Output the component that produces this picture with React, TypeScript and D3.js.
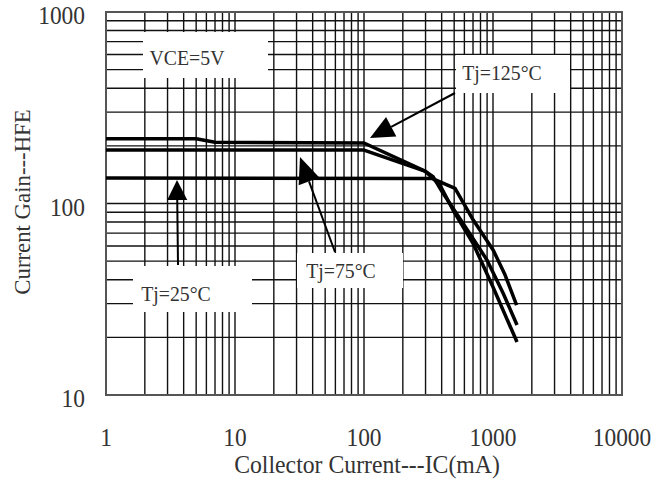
import React from "react";
import * as d3 from "d3";

const xTicks = [1, 10, 100, 1000, 10000];
const yTicks = [10, 100, 1000];
const xTickLabels = ["1", "10", "100", "1000", "10000"];
const yTickLabels = ["10", "100", "1000"];

const ic125 = [1, 5, 7, 100, 300, 388, 490, 700, 1000, 1535];
const hfe125 = [218, 218, 209, 207, 147, 125, 92.5, 62, 36.6, 18.9];

const ic75 = [1, 100, 300, 343, 410, 585, 898, 1196, 1535];
const hfe75 = [190, 190, 147, 138, 113, 79, 50.7, 34.1, 23.2];

const ic25 = [1, 340, 508, 703, 1005, 1239, 1524];
const hfe25 = [136, 135, 120, 82, 57, 42.4, 29.5];

const W = 653;
const H = 481;
const L = 106, R = 622, T = 12, B = 395;

export default function App() {
  const x = d3.scaleLog().domain([1, 10000]).range([L, R]);
  const y = d3.scaleLog().domain([10, 1000]).range([B, T]);

  const xGrid: number[] = [];
  for (let e = 0; e < 4; e++) for (let k = 1; k <= 9; k++) xGrid.push(k * Math.pow(10, e));
  xGrid.push(10000);
  const yGrid: number[] = [];
  for (let e = 1; e < 3; e++) for (let k = 1; k <= 9; k++) yGrid.push(k * Math.pow(10, e));
  yGrid.push(1000);

  const line = d3
    .line<[number, number]>()
    .x((d) => x(d[0]))
    .y((d) => y(d[1]))
    .curve(d3.curveLinear);

  const series = [
    { ic: ic125, hfe: hfe125 },
    { ic: ic75, hfe: hfe75 },
    { ic: ic25, hfe: hfe25 },
  ];

  const font = "'Liberation Serif', 'Times New Roman', serif";
  const arrow = (x1: number, y1: number, tx: number, ty: number, hl: number, hw: number) => {
    const ang = Math.atan2(ty - y1, tx - x1);
    const bx = tx - hl * Math.cos(ang);
    const by = ty - hl * Math.sin(ang);
    const px = -Math.sin(ang) * hw / 2;
    const py = Math.cos(ang) * hw / 2;
    return (
      <g>
        <line x1={x1} y1={y1} x2={bx} y2={by} stroke="#000" strokeWidth={2} />
        <polygon points={`${tx},${ty} ${bx + px},${by + py} ${bx - px},${by - py}`} fill="#000" />
      </g>
    );
  };

  const label = (txt: string, cx: number, cy: number, size: number) => (
    <text
      transform={`translate(${cx},${cy}) scale(0.9,1)`}
      textAnchor="middle"
      fontFamily={font}
      fontSize={size}
      fill="#333"
    >
      {txt}
    </text>
  );

  return (
    <svg width={W} height={H} style={{ position: "absolute", left: 0, top: 0, background: "#fff" }}>
      <rect x={0} y={0} width={W} height={H} fill="#fff" />
      {xGrid.map((v, i) => (
        <line key={"vx" + i} x1={x(v)} x2={x(v)} y1={T} y2={B} stroke="#111" strokeWidth={1.4} />
      ))}
      {yGrid.map((v, i) => (
        <line key={"hy" + i} x1={L} x2={R} y1={y(v)} y2={y(v)} stroke="#111" strokeWidth={1.4} />
      ))}
      {/* label boxes */}
      <rect x={143} y={32} width={125} height={46} fill="#fff" />
      <rect x={456} y={55} width={114} height={38} fill="#fff" />
      <rect x={133} y={266} width={119} height={46} fill="#fff" />
      <rect x={297} y={253} width={106} height={35} fill="#fff" />
      <rect x={L} y={T} width={R - L} height={B - T} fill="none" stroke="#555" strokeWidth={2} />

      {series.map((s, i) => (
        <path
          key={"s" + i}
          d={line(s.ic.map((v, j) => [v, s.hfe[j]] as [number, number])) || ""}
          fill="none"
          stroke="#000"
          strokeWidth={3.5}
          strokeLinejoin="round"
        />
      ))}

      {arrow(455, 93, 370, 138, 24, 22)}
      {arrow(178, 265, 177, 180, 20, 20)}
      {arrow(335, 252, 300, 157, 26, 22)}

      {label("VCE=5V", 187, 65, 22)}
      {label("Tj=125°C", 502, 80, 22)}
      {label("Tj=25°C", 176, 301, 22)}
      {label("Tj=75°C", 341, 278, 22)}

      {xTicks.map((v, i) => (
        <text
          key={"xt" + i}
          transform={`translate(${x(v)},${446}) scale(0.9,1)`}
          textAnchor="middle"
          fontFamily={font}
          fontSize={26}
          fill="#333"
        >
          {xTickLabels[i]}
        </text>
      ))}
      {yTicks.map((v, i) => (
        <text
          key={"yt" + i}
          transform={`translate(${85},${y(v) + 12}) scale(0.9,1)`}
          textAnchor="end"
          fontFamily={font}
          fontSize={26}
          fill="#333"
        >
          {yTickLabels[i]}
        </text>
      ))}
      <text
        transform={`translate(367,473) scale(0.95,1)`}
        textAnchor="middle"
        fontFamily={font}
        fontSize={25}
        fill="#333"
      >
        Collector Current---IC(mA)
      </text>
      <text
        transform={`translate(30,202) rotate(-90) scale(0.95,1)`}
        textAnchor="middle"
        fontFamily={font}
        fontSize={24}
        fill="#333"
      >
        Current Gain---HFE
      </text>
    </svg>
  );
}
